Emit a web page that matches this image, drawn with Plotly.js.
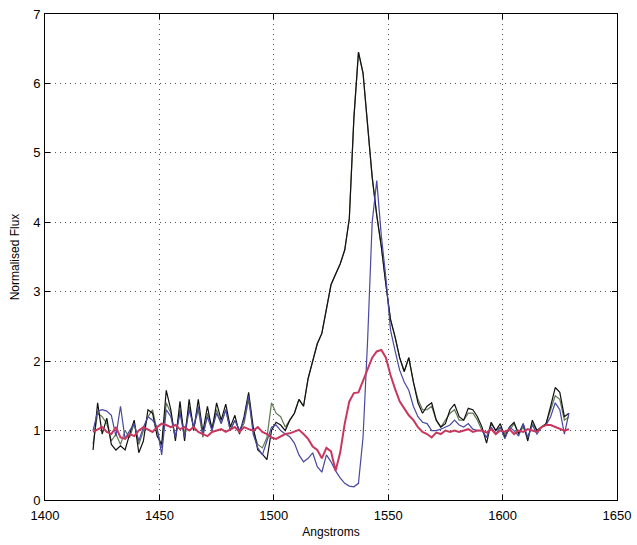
<!DOCTYPE html>
<html>
<head>
<meta charset="utf-8">
<script src="https://cdn.plot.ly/plotly-3.0.1.min.js"></script>
<style>
  html, body { margin: 0; padding: 0; background: #fff; }
  #chart { width: 637px; height: 545px; }
</style>
</head>
<body>
<div id="chart"></div>
<script>
// Wavelength grid (Angstroms)
const wavelength = [
  1421,1423,1425,1427,1429,1431,1433,1435,1437,1439,
  1441,1443,1445,1447,1449,1451,1453,1455,1457,1459,
  1461,1463,1465,1467,1469,1471,1473,1475,1477,1479,
  1481,1483,1485,1487,1489,1491,1493,1495,1497,1499,
  1501,1503,1505,1507,1509,1511,1513,1515,1517,1519,
  1521,1523,1525,1527,1529,1531,1533,1535,1537,1539,
  1541,1543,1545,1547,1549,1551,1553,1555,1557,1559,
  1561,1563,1565,1567,1569,1571,1573,1575,1577,1579,
  1581,1583,1585,1587,1589,1591,1593,1595,1597,1599,
  1601,1603,1605,1607,1609,1611,1613,1615,1617,1619,
  1621,1623,1625,1627,1629
];

// Black spectrum
const fluxBlack = [
  0.72,1.40,0.95,1.18,0.80,0.72,0.78,0.72,0.95,1.15,
  0.68,0.85,1.30,1.25,0.92,0.80,1.58,1.30,0.85,1.42,
  0.85,1.45,1.00,1.45,0.98,1.35,1.00,1.40,1.15,1.38,
  1.05,1.22,0.95,1.20,1.55,1.05,0.72,0.66,0.58,1.00,
  1.12,1.08,1.00,1.15,1.25,1.45,1.35,1.75,2.00,2.25,
  2.40,2.75,3.10,3.25,3.40,3.60,4.05,5.50,6.45,6.15,
  5.35,4.65,4.10,3.65,3.10,2.60,2.35,2.05,1.85,2.05,
  1.70,1.40,1.25,1.35,1.40,1.15,1.05,1.10,1.30,1.38,
  1.20,1.15,1.32,1.30,1.20,1.05,0.82,1.12,1.00,1.10,
  0.90,1.05,1.12,0.95,1.10,0.85,1.15,1.00,1.05,1.10,
  1.35,1.62,1.55,1.20,1.25
];

// Green spectrum
const fluxGreen = [
  0.80,1.25,1.20,1.10,0.85,0.95,0.80,1.00,0.90,1.10,
  0.80,1.00,1.20,1.30,1.00,0.75,1.40,1.25,0.90,1.30,
  0.95,1.35,1.05,1.30,0.90,1.25,1.05,1.30,1.10,1.30,
  1.00,1.15,1.00,1.10,1.45,1.00,0.80,0.75,0.90,1.40,
  1.25,1.20,1.05,1.15,1.25,1.45,1.35,1.75,2.00,2.25,
  2.40,2.75,3.10,3.25,3.40,3.60,4.05,5.50,6.45,6.15,
  5.35,4.65,4.10,3.65,3.10,2.60,2.35,2.05,1.85,2.05,
  1.70,1.45,1.30,1.30,1.35,1.15,1.05,1.15,1.25,1.30,
  1.15,1.15,1.25,1.25,1.15,1.00,0.90,1.10,1.00,1.05,
  0.95,1.00,1.10,0.95,1.05,0.90,1.10,1.00,1.05,1.10,
  1.30,1.50,1.45,1.15,1.20
];

// Blue spectrum
const fluxBlue = [
  1.00,1.28,1.30,1.28,1.22,0.92,1.35,0.88,1.00,1.10,
  0.85,1.05,1.20,1.15,1.05,0.65,1.30,1.20,0.90,1.25,
  0.90,1.30,1.05,1.35,0.95,1.20,1.00,1.25,1.10,1.30,
  1.00,1.15,1.00,1.15,1.50,0.95,0.75,0.65,0.85,1.05,
  1.08,1.00,0.95,0.91,0.82,0.65,0.55,0.60,0.68,0.48,
  0.40,0.65,0.55,0.42,0.32,0.24,0.20,0.19,0.24,0.90,
  2.30,4.00,4.60,3.80,3.20,2.45,2.15,1.87,1.70,1.58,
  1.35,1.20,1.12,1.10,1.00,1.00,1.02,1.05,1.08,1.15,
  1.08,1.05,1.10,1.02,1.00,1.00,0.90,1.05,0.95,1.05,
  0.88,1.05,1.00,0.92,1.10,0.90,1.08,0.95,1.05,1.08,
  1.20,1.40,1.30,0.95,1.25
];

// Red spectrum
const fluxRed = [
  0.98,1.02,1.05,0.98,0.95,1.05,0.90,0.88,0.95,0.92,
  1.00,1.05,1.02,0.98,1.05,1.10,1.08,1.05,1.08,1.02,
  1.05,1.00,1.05,0.98,0.95,0.92,0.98,1.00,1.02,0.98,
  1.02,1.05,0.98,1.05,1.02,1.00,1.05,0.98,0.95,0.90,
  0.88,0.92,0.95,0.96,0.98,1.01,0.95,0.88,0.77,0.72,
  0.60,0.75,0.70,0.42,0.68,1.10,1.42,1.54,1.55,1.72,
  1.90,2.05,2.14,2.16,2.05,1.80,1.60,1.42,1.32,1.22,
  1.15,1.05,0.98,0.95,0.90,0.97,0.95,1.00,0.98,1.00,
  0.98,1.00,1.02,0.98,1.00,1.00,0.97,1.02,0.95,1.00,
  0.98,1.02,0.95,1.00,0.98,1.02,1.00,0.98,1.05,1.08,
  1.08,1.05,1.02,1.00,1.02
];

const xTicks = [1400,1450,1500,1550,1600,1650];
const yTicks = [0,1,2,3,4,5,6,7];

const FONT = '"Liberation Sans", Arial, Helvetica, sans-serif';

const traces = [
  {x: wavelength, y: fluxGreen, mode: 'lines', line: {color: '#5f7a55', width: 1.2}},
  {x: wavelength, y: fluxBlack, mode: 'lines', line: {color: '#111111', width: 1.2}},
  {x: wavelength, y: fluxBlue,  mode: 'lines', line: {color: '#4848a0', width: 1.2}},
  {x: wavelength, y: fluxRed,   mode: 'lines', line: {color: '#c8385e', width: 2}}
];

const axisCommon = {
  showline: true, linecolor: '#000', linewidth: 1, mirror: 'ticks',
  ticks: 'inside', ticklen: 5, tickcolor: '#000', tickwidth: 1,
  showgrid: true, gridcolor: '#555', gridwidth: 1, griddash: '1px,4px',
  zeroline: false,
  tickfont: {family: FONT, size: 13, color: '#000'}
};

const layout = {
  width: 637, height: 545,
  margin: {l: 45, r: 20, t: 14, b: 45},
  paper_bgcolor: '#fff', plot_bgcolor: '#fff',
  showlegend: false,
  font: {family: FONT, color: '#000'},
  xaxis: Object.assign({}, axisCommon, {
    range: [1400, 1650], tickmode: 'array', tickvals: xTicks,
    ticklabelstandoff: 3,
    title: {text: 'Angstroms', font: {family: FONT, size: 12, color: '#000'}, standoff: 6}
  }),
  yaxis: Object.assign({}, axisCommon, {
    range: [0, 7], tickmode: 'array', tickvals: yTicks,
    ticklabelstandoff: 1,
    title: {text: 'Normalised Flux', font: {family: FONT, size: 12, color: '#000'}, standoff: 10}
  })
};

Plotly.newPlot('chart', traces, layout, {displayModeBar: false, staticPlot: true});
</script>
</body>
</html>
